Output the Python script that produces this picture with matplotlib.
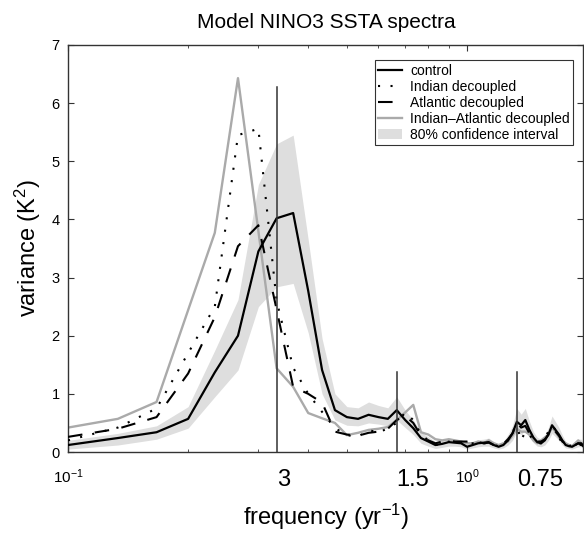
import numpy as np
import matplotlib
matplotlib.use("Agg")
import matplotlib.pyplot as plt
from matplotlib.patches import Patch
from matplotlib.lines import Line2D

plt.rcParams['font.family'] = ['Liberation Sans', 'DejaVu Sans']
plt.rcParams['mathtext.fontset'] = 'custom'
plt.rcParams['mathtext.rm'] = 'Liberation Sans'
plt.rcParams['mathtext.it'] = 'Liberation Sans:italic'
plt.rcParams['mathtext.bf'] = 'Liberation Sans:bold'

# frequency (yr^-1)
freq = [0.1000, 0.1333, 0.1667, 0.2000, 0.2333, 0.2667, 0.3000, 0.3333, 0.3667, 0.4000,
        0.4333, 0.4667, 0.5000, 0.5333, 0.5667, 0.6000, 0.6333, 0.6667, 0.7000, 0.7333,
        0.7667, 0.8000, 0.8333, 0.8667, 0.9000, 0.9333, 0.9667, 1.0000, 1.0333, 1.0667,
        1.1000, 1.1333, 1.1667, 1.2000, 1.2333, 1.2667, 1.3000, 1.3333, 1.3667, 1.4000,
        1.4333, 1.4667, 1.5000, 1.5333, 1.5667, 1.6000, 1.6333, 1.6667, 1.7000, 1.7333,
        1.7667, 1.8000, 1.8333, 1.8667, 1.9000, 1.9333, 1.9667]

control = [0.12, 0.24, 0.34, 0.57, 1.37, 2.00, 3.45, 4.02, 4.11, 2.77,
           1.41, 0.72, 0.60, 0.57, 0.64, 0.60, 0.57, 0.72, 0.55, 0.41,
           0.24, 0.18, 0.12, 0.14, 0.17, 0.16, 0.15, 0.09, 0.12, 0.15,
           0.16, 0.17, 0.12, 0.09, 0.12, 0.20, 0.32, 0.52, 0.46, 0.55,
           0.38, 0.25, 0.17, 0.15, 0.20, 0.30, 0.46, 0.38, 0.30, 0.20,
           0.12, 0.10, 0.09, 0.12, 0.15, 0.15, 0.08]

ci_low = [0.05, 0.12, 0.22, 0.41, 0.95, 1.41, 2.50, 2.84, 2.90, 2.05,
          1.00, 0.55, 0.46, 0.45, 0.50, 0.48, 0.45, 0.55, 0.42, 0.30,
          0.15, 0.10, 0.06, 0.08, 0.10, 0.10, 0.09, 0.05, 0.07, 0.09,
          0.10, 0.10, 0.07, 0.05, 0.07, 0.12, 0.20, 0.35, 0.30, 0.38,
          0.25, 0.16, 0.10, 0.09, 0.12, 0.20, 0.32, 0.26, 0.20, 0.12,
          0.07, 0.06, 0.05, 0.07, 0.09, 0.09, 0.04]

ci_high = [0.20, 0.32, 0.45, 0.78, 1.75, 2.62, 4.60, 5.30, 5.45, 3.65,
           1.95, 1.00, 0.78, 0.76, 0.86, 0.80, 0.76, 0.95, 0.72, 0.55,
           0.34, 0.26, 0.18, 0.20, 0.24, 0.22, 0.21, 0.14, 0.17, 0.21,
           0.22, 0.24, 0.18, 0.14, 0.18, 0.30, 0.45, 0.75, 0.65, 0.75,
           0.53, 0.35, 0.25, 0.22, 0.29, 0.42, 0.62, 0.52, 0.42, 0.29,
           0.18, 0.15, 0.14, 0.18, 0.22, 0.22, 0.12]

indian = [0.20, 0.42, 0.75, 1.70, 2.50, 5.45, 5.56, 2.60, 1.45, 1.00,
          0.69, 0.41, 0.29, 0.26, 0.38, 0.33, 0.41, 0.50, 0.68, 0.55,
          0.30, 0.20, 0.12, 0.15, 0.18, 0.14, 0.16, 0.12, 0.15, 0.12,
          0.15, 0.15, 0.12, 0.10, 0.15, 0.20, 0.35, 0.45, 0.20, 0.35,
          0.30, 0.20, 0.15, 0.15, 0.25, 0.35, 0.45, 0.38, 0.25, 0.15,
          0.12, 0.10, 0.12, 0.10, 0.15, 0.12, 0.10]

atlantic = [0.26, 0.40, 0.60, 1.35, 2.32, 3.54, 3.90, 2.45, 1.12, 1.00,
            0.85, 0.35, 0.30, 0.28, 0.33, 0.35, 0.40, 0.55, 0.62, 0.50,
            0.28, 0.20, 0.15, 0.18, 0.20, 0.18, 0.18, 0.18, 0.20, 0.17,
            0.15, 0.16, 0.12, 0.10, 0.14, 0.22, 0.32, 0.50, 0.42, 0.45,
            0.32, 0.22, 0.18, 0.18, 0.22, 0.30, 0.42, 0.35, 0.28, 0.18,
            0.14, 0.10, 0.12, 0.12, 0.15, 0.12, 0.10]

indian_atlantic = [0.42, 0.57, 0.86, 2.44, 3.77, 6.43, 3.80, 1.44, 1.12, 0.67,
                   0.58, 0.50, 0.29, 0.33, 0.38, 0.40, 0.43, 0.55, 0.68, 0.81,
                   0.34, 0.30, 0.22, 0.20, 0.22, 0.20, 0.18, 0.15, 0.15, 0.18,
                   0.15, 0.20, 0.15, 0.12, 0.15, 0.18, 0.28, 0.40, 0.35, 0.35,
                   0.30, 0.20, 0.15, 0.20, 0.25, 0.30, 0.42, 0.35, 0.25, 0.20,
                   0.15, 0.12, 0.10, 0.15, 0.20, 0.15, 0.10]

# marked periods (years) and heights of the marker lines
periods = [3, 1.5, 0.75]
period_labels = ["3", "1.5", "0.75"]
period_line_tops = [6.28, 1.38, 1.38]

fig = plt.figure(figsize=(5.84, 5.33), dpi=100)
ax = fig.add_axes([68/584, 81/533, 515/584, 407/533])

ax.fill_between(freq, ci_low, ci_high, color='#dedede', linewidth=0, zorder=1)
ax.plot(freq, indian_atlantic, color='#aaaaaa', lw=1.7, zorder=2)
ax.plot(freq, indian, color='black', lw=1.5, linestyle=(0, (1, 5)), zorder=3)
ax.plot(freq, atlantic, color='black', lw=1.5, linestyle=(0, (7, 6)), zorder=3)
ax.plot(freq, control, color='black', lw=1.6, zorder=4)

for p, top in zip(periods, period_line_tops):
    ax.plot([1.0/p, 1.0/p], [0, top], color='#333333', lw=1.1, zorder=5)
for p, lab in zip(periods, period_labels):
    ax.text(1.0/p, -0.069, lab, transform=ax.get_xaxis_transform(),
            ha='left', va='center', fontsize=17)

ax.set_xscale('log')
ax.set_xlim(0.1, 1.953)
ax.set_ylim(0, 7)
ax.set_yticks(range(0, 8))
ax.tick_params(axis='both', which='both', direction='in', top=True, right=True,
               colors='#333333', labelcolor='black')
ax.tick_params(axis='y', labelsize=10.5, pad=6, length=4)
ax.tick_params(axis='x', which='major', labelsize=11, pad=11, length=4)
ax.tick_params(axis='x', which='minor', length=2.5)
for s in ax.spines.values():
    s.set_color('#333333')
    s.set_linewidth(1.0)

handles = [
    Line2D([], [], color='black', lw=1.6),
    Line2D([], [], color='black', lw=1.5, linestyle=(0, (1, 5))),
    Line2D([], [], color='black', lw=1.5, linestyle=(0, (7, 6))),
    Line2D([], [], color='#aaaaaa', lw=1.7),
    Patch(facecolor='#dedede', edgecolor='none'),
]
labels = ["control", "Indian decoupled", "Atlantic decoupled",
          "Indian\u2013Atlantic decoupled", "80% confidence interval"]
leg = ax.legend(handles, labels, loc='upper right', bbox_to_anchor=(0.981, 0.963),
                borderaxespad=0, fontsize=10, frameon=True, fancybox=False,
                handlelength=1.7, handletextpad=0.6, labelspacing=0.15,
                borderpad=0.25)
leg.get_frame().set_edgecolor('black')
leg.get_frame().set_linewidth(0.8)

fig.text(326/584, 1 - 22/533, "Model NINO3 SSTA spectra", ha='center', va='center', fontsize=15)
fig.text(326/584, 1 - 517/533, "frequency (yr$^{-1}$)", ha='center', va='center', fontsize=17)
fig.text(28/584, 1 - 248/533, "variance (K$^{2}$)", ha='center', va='center',
         rotation=90, fontsize=17)

fig.savefig("out.png", dpi=100)
